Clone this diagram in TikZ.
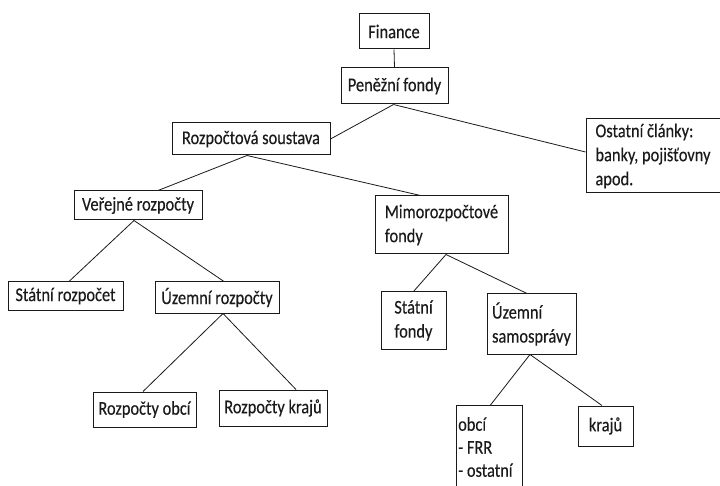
\documentclass[tikz,border=0pt]{standalone}
\usepackage{fontspec}
\setmainfont{Carlito}[FakeStretch=0.84, FakeBold=0.25]
\usetikzlibrary{calc}
\definecolor{ink}{HTML}{1A1A1A}
\tikzset{
  box/.style={draw=ink, line width=1pt, inner sep=0pt, text=ink,
    font=\fontsize{19.5}{24}\selectfont},
  lbox/.style={box, align=left},
  link/.style={draw=ink, line width=0.8pt}
}
\begin{document}
\begin{tikzpicture}[x=1pt, y=-1pt]
  \useasboundingbox (0,0) rectangle (720,486);
  \fill[white] (0,0) rectangle (720,486);
  \clip (0,0) rectangle (720,486);

  % boxes, placed by centre with their outer sizes
  \node[box, minimum width=70pt,  minimum height=35pt] (fin) at (394,31.5)  {Finance};
  \node[box, minimum width=107pt, minimum height=36pt] (pen) at (394.5,86)  {Peněžní fondy};
  \node[box, minimum width=158pt, minimum height=32pt] (roz) at (251,139)   {Rozpočtová soustava};
  \node[lbox, minimum width=134pt, minimum height=74pt] (ost) at (653,156)  {Ostatní články:\\banky, pojišťovny\\apod.};
  \node[box, minimum width=128pt, minimum height=29pt] (ver) at (138,205.5) {Veřejné rozpočty};
  \node[lbox, minimum width=133pt, minimum height=58pt] (mim) at (441.5,225) {Mimorozpočtové\\fondy};
  \node[box, minimum width=115pt, minimum height=29pt] (sr)  at (65.5,296)  {Státní rozpočet};
  \node[box, minimum width=124pt, minimum height=31pt] (ur)  at (217,297.5) {Územní rozpočty};
  \node[box, align=center, minimum width=65pt, minimum height=57pt] (sf) at (413.5,320.5) {Státní\\fondy};
  \node[lbox, minimum width=89pt, minimum height=60pt] (us) at (531.5,324) {Územní\\samosprávy};
  \node[box, minimum width=103pt, minimum height=35pt] (ro)  at (144.5,409.5) {Rozpočty obcí};
  \node[box, minimum width=108pt, minimum height=36pt] (rk)  at (273,408)   {Rozpočty krajů};
  \node[box, minimum width=55pt,  minimum height=40pt] (kr)  at (605.5,426) {krajů};
  % the obcí box runs on past the lower edge; its list sits at the top
  \node[box, anchor=north west, minimum width=66pt, minimum height=100pt] (obci) at (456,405) {};
  \node[anchor=north west, align=left, inner xsep=2pt, inner ysep=12pt, text=ink,
        font=\fontsize{19.5}{23}\selectfont] (obcitext) at (obci.north west)
        {obcí\\- FRR\\- ostatní};

  % connectors
  \draw[link] (fin.south) -- (pen.north);
  \draw[link] ($(pen.south)+(-1,0)$) -- (roz.east);
  \draw[link] ($(pen.south)+(-1,0)$) -- ($(ost.west)+(0,-4)$);
  \draw[link] ($(roz.south)+(-4,0)$) -- ($(ver.north)+(20,0)$);
  \draw[link] ($(roz.south)+(-4,0)$) -- ($(mim.north)+(-21,0)$);
  \draw[link] ($(ver.south)+(-4,0)$) -- ($(sr.north)+(4,0)$);
  \draw[link] ($(ver.south)+(-4,0)$) -- ($(ur.north)+(7,0)$);
  \draw[link] ($(ur.south)+(6,0)$) -- ($(ro.north)+(-1.5,0)$);
  \draw[link] ($(ur.south)+(6,0)$) -- ($(rk.north)+(23,0)$);
  \draw[link] ($(mim.south)+(4.5,0)$) -- (sf.north);
  \draw[link] ($(mim.south)+(4.5,0)$) -- ($(us.north)+(-4.5,0)$);
  \draw[link] ($(us.south)+(-1.5,0)$) -- ($(obci.north)+(1,0)$);
  \draw[link] ($(us.south)+(-1.5,0)$) -- ($(kr.north)+(-3.5,0)$);
\end{tikzpicture}
\end{document}
